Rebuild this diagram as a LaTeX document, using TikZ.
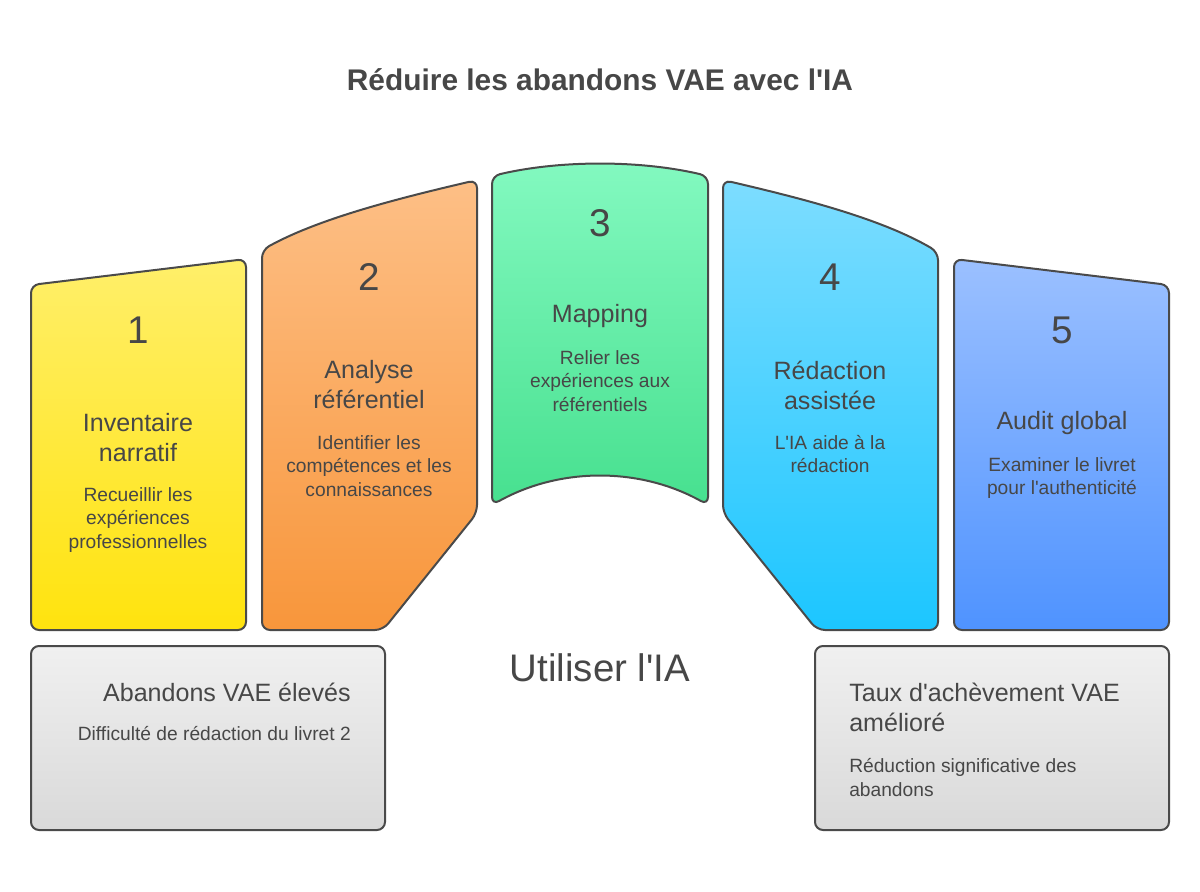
\documentclass[tikz,border=0pt]{standalone}
\usepackage{fontspec}
\newfontfamily\diagfont{Liberation Sans}
\usepackage{xcolor}
\usetikzlibrary{positioning}

\definecolor{edgegray}{HTML}{4A4A4A}
\definecolor{inkgray}{HTML}{474747}
\definecolor{yellowtop}{HTML}{FFEF6A}
\definecolor{yellowbot}{HTML}{FFE30E}
\definecolor{orangetop}{HTML}{FDBF86}
\definecolor{orangebot}{HTML}{F8963B}
\definecolor{greentop}{HTML}{83F9C0}
\definecolor{greenbot}{HTML}{47E08F}
\definecolor{cyantop}{HTML}{7DDDFF}
\definecolor{cyanbot}{HTML}{1CC6FF}
\definecolor{bluetop}{HTML}{9BC0FF}
\definecolor{bluebot}{HTML}{4F93FF}
\definecolor{greytop}{HTML}{F0F0F0}
\definecolor{greybot}{HTML}{D9D9D9}

\tikzset{
  card/.style={draw=edgegray, line width=1.5pt, rounded corners=6pt},
  numlabel/.style={font=\diagfont\fontsize{29}{29}\selectfont, text=inkgray, inner sep=0pt},
  headlabel/.style={font=\diagfont\fontsize{18.8}{22.5}\selectfont, text=inkgray, align=center, inner sep=0pt},
  desclabel/.style={font=\diagfont\fontsize{14.4}{17.6}\selectfont, text=inkgray, align=center, inner sep=0pt},
}

\begin{document}
\begin{tikzpicture}[x=0.75pt, y=-0.75pt]
      \useasboundingbox (0,0) rectangle (1200,892);

      % Cards
      \draw[card, top color=yellowtop, bottom color=yellowbot] (31,285) -- (246,259) -- (246,630) -- (31,630) -- cycle;
      \draw[card, top color=orangetop, bottom color=orangebot] (262,250) .. controls (320,218) and (400,198) .. (477,180) -- (477,513) -- (383,630) -- (262,630) -- cycle;
      \draw[card, top color=greentop, bottom color=greenbot] (492,176) .. controls (560,160) and (640,160) .. (708,176) -- (708,505) .. controls (640,467) and (560,467) .. (492,505) -- cycle;
      \draw[card, top color=cyantop, bottom color=cyanbot] (723,180) .. controls (800,198) and (880,218) .. (938,252) -- (938,630) -- (817,630) -- (723,513) -- cycle;
      \draw[card, top color=bluetop, bottom color=bluebot] (954,259) -- (1169,285) -- (1169,630) -- (954,630) -- cycle;
      \draw[card, top color=greytop, bottom color=greybot] (31,646) rectangle (385,830);
      \draw[card, top color=greytop, bottom color=greybot] (815,646) rectangle (1169,830);

      % Define nodes
      \node[font=\diagfont\bfseries\fontsize{22.4}{22.4}\selectfont, text=inkgray] (title) at (600,80) {Réduire les abandons VAE avec l'IA};

      \node[numlabel] (n1) at (138,330) {1};
      \node[headlabel] (h1) at (138,438) {Inventaire\\narratif};
      \node[desclabel] (d1) at (138,520) {Recueillir les\\expériences\\professionnelles};

      \node[numlabel] (n2) at (369,277) {2};
      \node[headlabel] (h2) at (369,385) {Analyse\\référentiel};
      \node[desclabel] (d2) at (369,466) {Identifier les\\compétences et les\\connaissances};

      \node[numlabel] (n3) at (600,223) {3};
      \node[headlabel] (h3) at (600,316) {Mapping};
      \node[desclabel] (d3) at (600,381) {Relier les\\expériences aux\\référentiels};

      \node[numlabel] (n4) at (830,277) {4};
      \node[headlabel] (h4) at (830,385) {Rédaction\\assistée};
      \node[desclabel] (d4) at (830,454) {L'IA aide à la\\rédaction};

      \node[numlabel] (n5) at (1062,330) {5};
      \node[headlabel] (h5) at (1062,423) {Audit global};
      \node[desclabel] (d5) at (1062,478) {Examiner le livret\\pour l'authenticité};

      \node[font=\diagfont\fontsize{28.8}{28.8}\selectfont, text=inkgray] (useai) at (600,668) {Utiliser l'IA};

      \node[headlabel, anchor=east] (lowhead) at (351,692) {Abandons VAE élevés};
      \node[desclabel, anchor=east] (lowdesc) at (351,734) {Difficulté de rédaction du livret 2};

      \node[headlabel, align=left, anchor=west] (highhead) at (849,707) {Taux d'achèvement VAE\\amélioré};
      \node[desclabel, align=left, anchor=west] (highdesc) at (849,777.5) {Réduction significative des\\abandons};

\end{tikzpicture}
\end{document}
